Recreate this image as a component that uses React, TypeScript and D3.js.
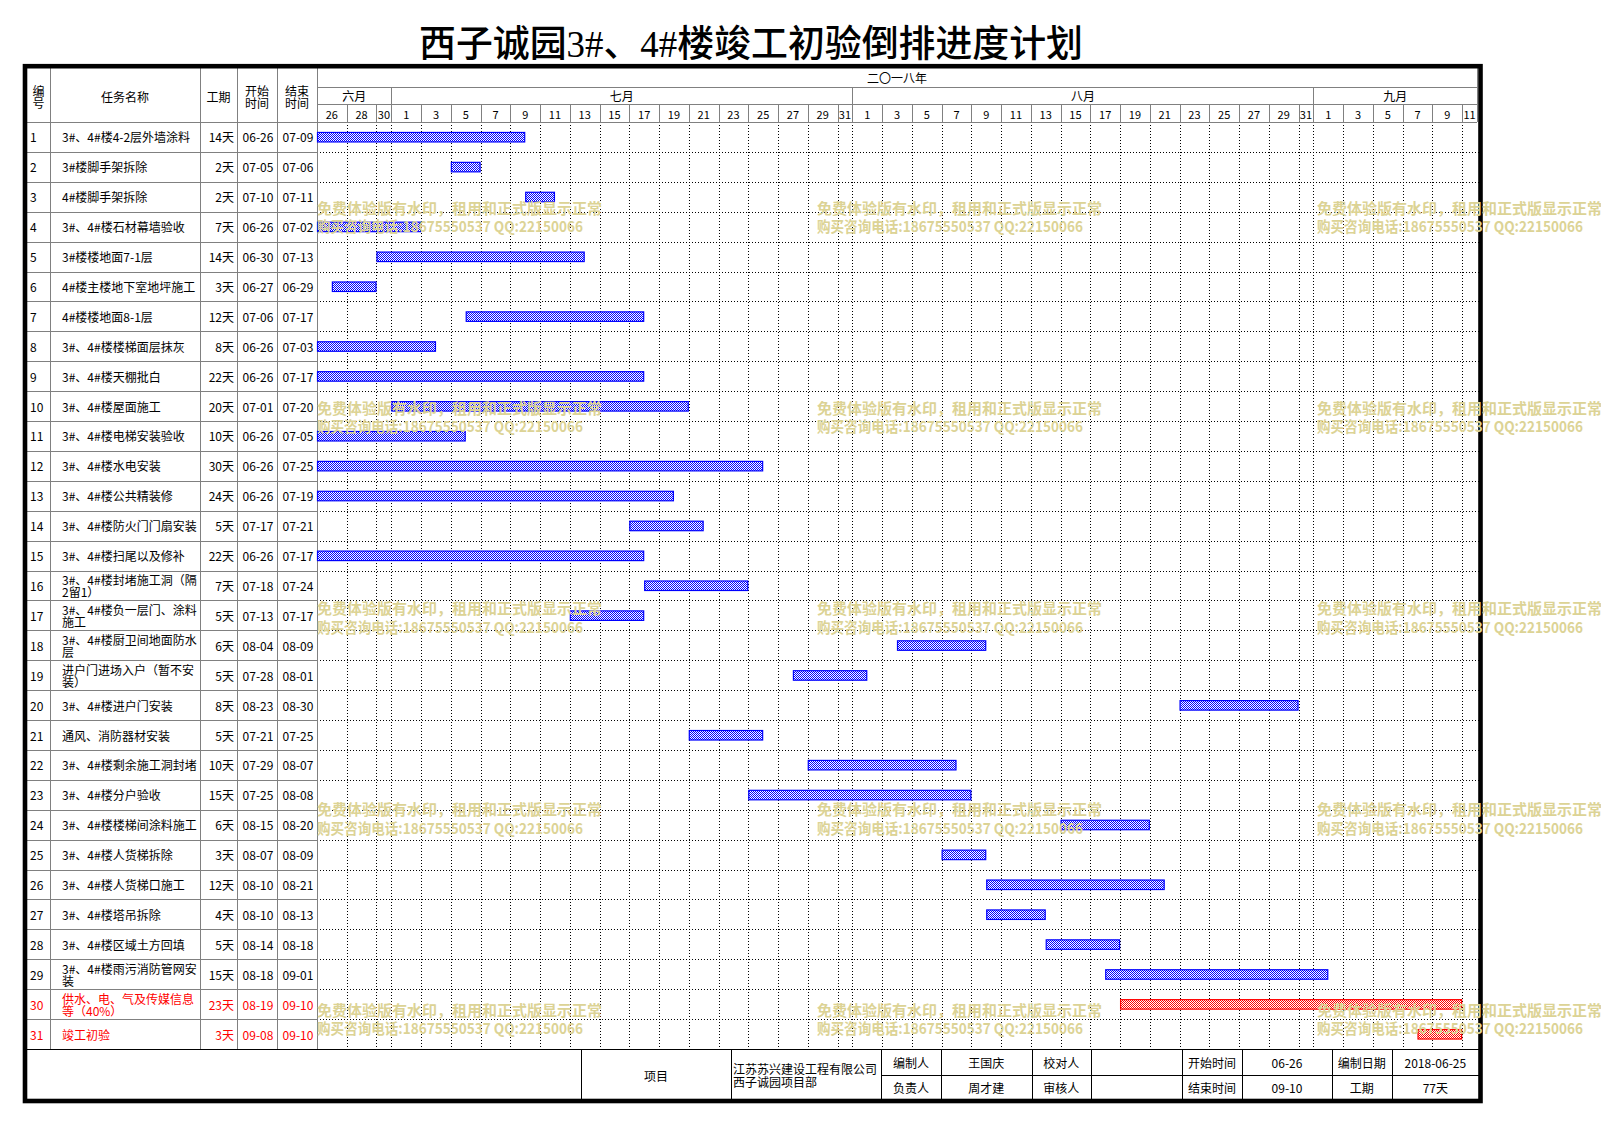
import * as d3 from 'd3';

const title = '西子诚园3#、4#楼竣工初验倒排进度计划';
const yearLabel = '二〇一八年';

const taskNames = [
  '3#、4#楼4-2层外墙涂料',
  '3#楼脚手架拆除',
  '4#楼脚手架拆除',
  '3#、4#楼石材幕墙验收',
  '3#楼楼地面7-1层',
  '4#楼主楼地下室地坪施工',
  '4#楼楼地面8-1层',
  '3#、4#楼楼梯面层抹灰',
  '3#、4#楼天棚批白',
  '3#、4#楼屋面施工',
  '3#、4#楼电梯安装验收',
  '3#、4#楼水电安装',
  '3#、4#楼公共精装修',
  '3#、4#楼防火门门扇安装',
  '3#、4#楼扫尾以及修补',
  '3#、4#楼封堵施工洞（隔\n2留1）',
  '3#、4#楼负一层门、涂料\n施工',
  '3#、4#楼厨卫间地面防水\n层',
  '进户门进场入户（暂不安\n装）',
  '3#、4#楼进户门安装',
  '通风、消防器材安装',
  '3#、4#楼剩余施工洞封堵',
  '3#、4#楼分户验收',
  '3#、4#楼楼梯间涂料施工',
  '3#、4#楼人货梯拆除',
  '3#、4#楼人货梯口施工',
  '3#、4#楼塔吊拆除',
  '3#、4#楼区域土方回填',
  '3#、4#楼雨污消防管网安\n装',
  '供水、电、气及传媒信息\n等（40%）',
  '竣工初验',
];
const taskDays = [14, 2, 2, 7, 14, 3, 12, 8, 22, 20, 10, 30, 24, 5, 22, 7, 5, 6, 5, 8, 5, 10, 15, 6, 3, 12, 4, 5, 15, 23, 3];
const taskStarts = [
  '06-26', '07-05', '07-10', '06-26', '06-30', '06-27', '07-06', '06-26', '06-26', '07-01',
  '06-26', '06-26', '06-26', '07-17', '06-26', '07-18', '07-13', '08-04', '07-28', '08-23',
  '07-21', '07-29', '07-25', '08-15', '08-07', '08-10', '08-10', '08-14', '08-18', '08-19', '09-08',
];
const taskEnds = [
  '07-09', '07-06', '07-11', '07-02', '07-13', '06-29', '07-17', '07-03', '07-17', '07-20',
  '07-05', '07-25', '07-19', '07-21', '07-17', '07-24', '07-17', '08-09', '08-01', '08-30',
  '07-25', '08-07', '08-08', '08-20', '08-09', '08-21', '08-13', '08-18', '09-01', '09-10', '09-10',
];
const redTasks = [30, 31];

const monthLabels = ['六月', '七月', '八月', '九月'];
const monthFrom = ['06-26', '07-01', '08-01', '09-01'];
const monthTo = ['06-30', '07-31', '08-31', '09-11'];

const footerTop = ['编制人', '王国庆', '校对人', '', '开始时间', '06-26', '编制日期', '2018-06-25'];
const footerBottom = ['负责人', '周才建', '审核人', '', '结束时间', '09-10', '工期', '77天'];
const projectLabel = '项目';
const companyLines = ['江苏苏兴建设工程有限公司', '西子诚园项目部'];

const watermark1 = '免费体验版有水印，租用和正式版显示正常';
const watermark2 = '购买咨询电话:18675550537 QQ:22150066';

const W = 1601;
const H = 1125;
const font = "'Noto Sans CJK SC', 'Noto Sans', sans-serif";
const gray = '#808080';

const day = (s: string) => new Date(`2018-${s}T00:00:00Z`);

const gL = 317;
const gR = 1477;
const tableTop = 122;
const tableBottom = 1049;

const x = d3.scaleUtc().domain([day('06-26'), day('09-12')]).range([gL, gR]);
const ids = taskNames.map((_, i) => i + 1);
const y = d3.scaleBand<number>().domain(ids).range([tableTop, tableBottom]).padding(0);

const colEdges = [27, 50, 200, 237, 277, 317];
const footerEdges = [881, 941, 1031.7, 1091, 1181.7, 1242.3, 1331.7, 1391.7, 1479];

const wmCols = [317, 817, 1317];
const wmRows = [207, 407, 607.5, 808.5, 1009];

export default function App() {
  const step = y.step();
  const dayCols = monthFrom.flatMap((f, mi) => {
    const end = d3.utcDay.offset(day(monthTo[mi]), 1);
    return d3.utcDay
      .range(day(f), end)
      .filter((_, i) => i % 2 === 0)
      .map((d) => ({ d, e: d3.utcDay.offset(d, 2) > end ? end : d3.utcDay.offset(d, 2) }));
  });
  const px = (v: number) => Math.round(v) + 0.5;

  return (
    <svg
      width={W}
      height={H}
      viewBox={`0 0 ${W} ${H}`}
      style={{ position: 'absolute', left: 0, top: 0, background: '#fff', fontFamily: font }}
    >
      <defs>
        <pattern id="chkBlue" width="2" height="2" patternUnits="userSpaceOnUse">
          <rect width="2" height="2" fill="#fff" />
          <rect width="1" height="1" fill="#0000ff" />
          <rect x="1" y="1" width="1" height="1" fill="#0000ff" />
        </pattern>
        <pattern id="chkRed" width="2" height="2" patternUnits="userSpaceOnUse">
          <rect width="2" height="2" fill="#fff" />
          <rect width="1" height="1" fill="#ff0000" />
          <rect x="1" y="1" width="1" height="1" fill="#ff0000" />
        </pattern>
      </defs>
      <rect width={W} height={H} fill="#fff" />

      <text x={751} y={57} textAnchor="middle" fontSize={37} fontWeight={500} fill="#000"
        fontFamily="'Liberation Serif', 'Noto Sans CJK SC', serif" textLength={664} lengthAdjust="spacingAndGlyphs">
        {title}
      </text>

      {/* gantt body grid */}
      <g shapeRendering="crispEdges">
        {dayCols.slice(1).map((c, i) => (
          <line key={`gv${i}`} x1={px(x(c.d))} x2={px(x(c.d))} y1={tableTop} y2={tableBottom}
            stroke="#000" strokeDasharray="1 2" />
        ))}
        {ids.map((id) => (
          <line key={`gh${id}`} x1={gL} x2={1479} y1={px((y(id) ?? 0) + step)} y2={px((y(id) ?? 0) + step)}
            stroke="#000" strokeDasharray="1 2" />
        ))}
      </g>

      {/* table grid */}
      <g shapeRendering="crispEdges" stroke={gray}>
        {colEdges.slice(1).map((cx) => (
          <line key={`cv${cx}`} x1={px(cx)} x2={px(cx)} y1={68} y2={tableBottom} />
        ))}
        {ids.map((id) => (
          <line key={`th${id}`} x1={27} x2={gL} y1={px((y(id) ?? 0) + step)} y2={px((y(id) ?? 0) + step)} />
        ))}
        <line x1={27} x2={gR} y1={px(tableTop)} y2={px(tableTop)} />
        <line x1={gL} x2={gR} y1={px(87)} y2={px(87)} />
        <line x1={gL} x2={gR} y1={px(104)} y2={px(104)} />
        <line x1={px(gR)} x2={px(gR)} y1={68} y2={tableTop} />
        {monthFrom.slice(1).map((f) => (
          <line key={`mv${f}`} x1={px(x(day(f)))} x2={px(x(day(f)))} y1={87} y2={104} />
        ))}
        {dayCols.slice(1).map((c, i) => (
          <line key={`dv${i}`} x1={px(x(c.d))} x2={px(x(c.d))} y1={104} y2={tableTop} />
        ))}
      </g>

      {/* header text */}
      <g fontSize={12} fill="#000" textAnchor="middle" dominantBaseline="central">
        <text x={38.5} y={90}>编</text>
        <text x={38.5} y={102.5}>号</text>
        <text x={125} y={96}>任务名称</text>
        <text x={218.5} y={96}>工期</text>
        <text x={257} y={90}>开始</text>
        <text x={257} y={102.5}>时间</text>
        <text x={297} y={90}>结束</text>
        <text x={297} y={102.5}>时间</text>
        <text x={(gL + gR) / 2} y={77.5}>{yearLabel}</text>
        {monthLabels.map((m, i) => (
          <text key={m} x={(x(day(monthFrom[i])) + x(d3.utcDay.offset(day(monthTo[i]), 1))) / 2} y={95.5}>{m}</text>
        ))}
        {dayCols.map((c, i) => (
          <text key={`dl${i}`} x={(x(c.d) + x(c.e)) / 2} y={113.5} fontSize={11}>{c.d.getUTCDate()}</text>
        ))}
      </g>

      {/* rows */}
      <g fontSize={12} dominantBaseline="central">
        {ids.map((id, i) => {
          const cy = (y(id) ?? 0) + step / 2;
          const color = redTasks.includes(id) ? '#ff0000' : '#000';
          const lines = taskNames[i].split('\n');
          return (
            <g key={`r${id}`} fill={color}>
              <text x={30} y={cy}>{id}</text>
              {lines.length === 1 ? (
                <text x={62} y={cy}>{lines[0]}</text>
              ) : (
                lines.map((l, li) => (
                  <text key={li} x={62} y={cy - 6 + li * 12.4}>{l}</text>
                ))
              )}
              <text x={234} y={cy} textAnchor="end">{`${taskDays[i]}天`}</text>
              <text x={258} y={cy} textAnchor="middle">{taskStarts[i]}</text>
              <text x={298} y={cy} textAnchor="middle">{taskEnds[i]}</text>
            </g>
          );
        })}
      </g>

      {/* bars */}
      <g>
        {ids.map((id, i) => {
          const cy = (y(id) ?? 0) + step / 2;
          const red = redTasks.includes(id);
          const x0 = x(day(taskStarts[i]));
          const x1 = x(d3.utcDay.offset(day(taskEnds[i]), 1));
          return (
            <rect key={`b${id}`} x={x0 + 0.5} y={cy - 4.5} width={x1 - x0 - 1} height={9.5}
              fill={red ? 'url(#chkRed)' : 'url(#chkBlue)'} stroke={red ? '#ff0000' : '#0000ff'} strokeWidth={1.2} />
          );
        })}
      </g>

      {/* footer */}
      <g shapeRendering="crispEdges" stroke="#000">
        <line x1={27} x2={1479} y1={px(tableBottom)} y2={px(tableBottom)} strokeWidth={1.5} />
        <line x1={footerEdges[0]} x2={1479} y1={px(1075)} y2={px(1075)} />
        {[581, 731, ...footerEdges.slice(0, -1)].map((fx) => (
          <line key={`fv${fx}`} x1={px(fx)} x2={px(fx)} y1={tableBottom} y2={1099} />
        ))}
      </g>
      <g fontSize={12} fill="#000" dominantBaseline="central" textAnchor="middle">
        <text x={656} y={1075}>{projectLabel}</text>
        <text x={733} y={1068.5} textAnchor="start">{companyLines[0]}</text>
        <text x={733} y={1081.5} textAnchor="start">{companyLines[1]}</text>
        {footerTop.map((t, i) => (
          <text key={`ft${i}`} x={(footerEdges[i] + footerEdges[i + 1]) / 2} y={1062}>{t}</text>
        ))}
        {footerBottom.map((t, i) => (
          <text key={`fb${i}`} x={(footerEdges[i] + footerEdges[i + 1]) / 2} y={1087.5}>{t}</text>
        ))}
      </g>

      {/* outer frame */}
      <rect x={25} y={66.2} width={1455.5} height={1034.8} fill="none" stroke="#000" strokeWidth={4.6} />

      {/* watermark */}
      <g fill="#dcd395" fontSize={15} fontWeight={700}>
        {wmRows.flatMap((wy) =>
          wmCols.map((wx) => (
            <g key={`wm${wx}-${wy}`}>
              <text x={wx} y={wy} dominantBaseline="central" textLength={285} lengthAdjust="spacingAndGlyphs">{watermark1}</text>
              <text x={wx} y={wy + 18.5} dominantBaseline="central" textLength={266} lengthAdjust="spacingAndGlyphs">{watermark2}</text>
            </g>
          )),
        )}
      </g>
    </svg>
  );
}
